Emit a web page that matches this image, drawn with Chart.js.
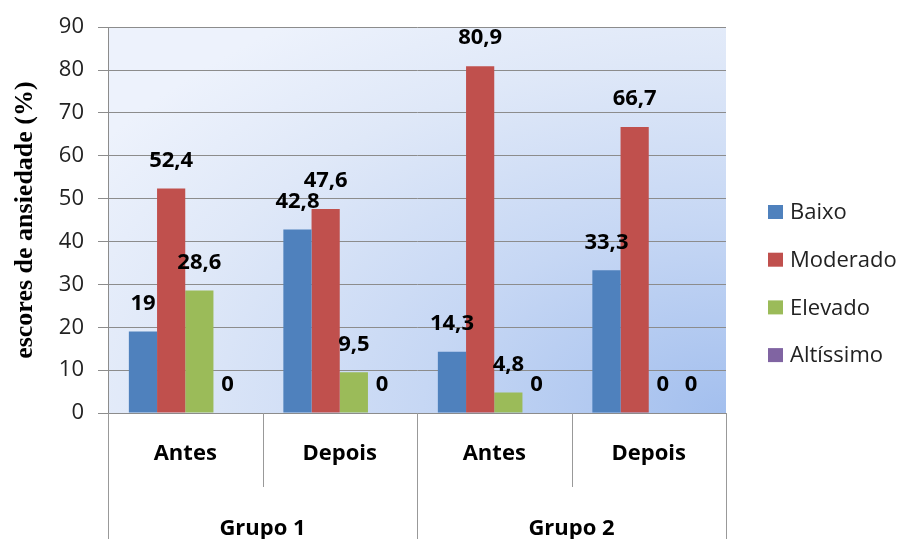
<!DOCTYPE html>
<html>
<head>
<meta charset="utf-8">
<script src="https://cdn.jsdelivr.net/npm/chart.js@4.4.0/dist/chart.umd.min.js"></script>
<style>
  html, body { margin: 0; padding: 0; background: #fff; }
  #wrap { width: 904px; height: 539px; position: relative; }
</style>
</head>
<body>
<div id="wrap"><canvas id="chart"></canvas></div>
<script>
// data
const categories = ['Antes', 'Depois', 'Antes', 'Depois'];
const groups = ['Grupo 1', 'Grupo 2'];
const seriesNames = ['Baixo', 'Moderado', 'Elevado', 'Altíssimo'];
const baixo = [19, 42.8, 14.3, 33.3];
const moderado = [52.4, 47.6, 80.9, 66.7];
const elevado = [28.6, 9.5, 4.8, 0];
const altissimo = [0, 0, 0, 0];
const yTicks = [0, 10, 20, 30, 40, 50, 60, 70, 80, 90];

const colors = ['#4f81bd', '#c0504d', '#9bbb59', '#8064a2'];
const FONT = '"Open Sans", "DejaVu Sans", sans-serif';

function fmt(v) {
  return String(v).replace('.', ',');
}

// light-to-blue fill behind the plot, darkest in the lower right corner
const plotBackground = {
  id: 'plotBackground',
  beforeDraw(chart) {
    const { ctx, chartArea: a } = chart;
    const w = a.right - a.left, h = a.bottom - a.top;
    ctx.save();
    ctx.fillStyle = '#fff';
    ctx.fillRect(0, 0, chart.width, chart.height);
    ctx.beginPath();
    ctx.rect(a.left, a.top, w, h);
    ctx.clip();
    ctx.translate(a.right, a.bottom);
    ctx.scale(1, 1 / 1.6);
    const g = ctx.createRadialGradient(0, 0, 0, 0, 0, 760);
    g.addColorStop(0, '#a3bfee');
    g.addColorStop(0.4, '#c6d7f4');
    g.addColorStop(0.75, '#dfe8f8');
    g.addColorStop(1, '#edf2fc');
    ctx.fillStyle = g;
    ctx.fillRect(-w, -h * 1.6, w, h * 1.6);
    ctx.restore();
  }
};

// value labels above each bar
const valueLabels = {
  id: 'valueLabels',
  afterDatasetsDraw(chart) {
    const ctx = chart.ctx;
    ctx.save();
    ctx.font = 'bold 22px ' + FONT;
    ctx.fillStyle = '#000';
    ctx.textAlign = 'center';
    ctx.textBaseline = 'middle';
    chart.data.datasets.forEach((ds, di) => {
      chart.getDatasetMeta(di).data.forEach((bar, i) => {
        ctx.fillText(fmt(ds.data[i]), bar.x, bar.y - 28);
      });
    });
    ctx.restore();
  }
};

// category separators and the group row under the x axis
const groupAxis = {
  id: 'groupAxis',
  afterDraw(chart) {
    const { ctx, chartArea: a } = chart;
    const x = chart.scales.x;
    const n = categories.length;
    ctx.save();
    ctx.strokeStyle = '#999';
    ctx.lineWidth = 1;
    for (let i = 0; i <= n; i++) {
      let px;
      if (i === 0) px = a.left;
      else if (i === n) px = a.right;
      else px = (x.getPixelForValue(i - 1) + x.getPixelForValue(i)) / 2;
      px = Math.round(px) + 0.5;
      ctx.beginPath();
      ctx.moveTo(px, a.bottom);
      ctx.lineTo(px, i % 2 === 0 ? chart.height : a.bottom + 74);
      ctx.stroke();
    }
    ctx.font = 'bold 22px ' + FONT;
    ctx.fillStyle = '#000';
    ctx.textAlign = 'center';
    ctx.textBaseline = 'middle';
    groups.forEach((g, gi) => {
      const cx = (x.getPixelForValue(gi * 2) + x.getPixelForValue(gi * 2 + 1)) / 2;
      ctx.fillText(g, cx, a.bottom + 116);
    });
    ctx.restore();
  }
};

// legend on the right
const sideLegend = {
  id: 'sideLegend',
  afterDraw(chart) {
    const ctx = chart.ctx;
    const lx = 768, ly = 212, step = 47.7;
    ctx.save();
    ctx.font = '22px ' + FONT;
    ctx.textAlign = 'left';
    ctx.textBaseline = 'middle';
    chart.data.datasets.forEach((ds, i) => {
      const cy = ly + i * step;
      ctx.fillStyle = ds.backgroundColor;
      ctx.fillRect(lx, cy - 7, 15, 14);
      ctx.fillStyle = '#222';
      ctx.fillText(ds.label, lx + 22, cy + 1);
    });
    ctx.restore();
  }
};

const seriesData = [baixo, moderado, elevado, altissimo];

new Chart(document.getElementById('chart'), {
  type: 'bar',
  data: {
    labels: categories,
    datasets: seriesNames.map((name, i) => ({
      label: name,
      data: seriesData[i],
      backgroundColor: colors[i],
      borderWidth: 0,
      categoryPercentage: 0.73,
      barPercentage: 1
    }))
  },
  options: {
    responsive: true,
    maintainAspectRatio: false,
    animation: false,
    layout: { padding: { top: 26, right: 178, left: 0, bottom: 0 } },
    plugins: {
      legend: { display: false },
      tooltip: { enabled: false }
    },
    scales: {
      x: {
        grid: { display: false, drawTicks: false },
        border: { display: false },
        ticks: {
          color: '#000',
          padding: 28,
          font: { family: FONT, size: 22, weight: 'bold' }
        },
        afterFit(s) { s.height = 126; }
      },
      y: {
        min: 0,
        max: 90,
        afterBuildTicks(s) { s.ticks = yTicks.map(v => ({ value: v })); },
        grid: { color: '#8c8c8c', tickLength: 10 },
        border: { color: '#8c8c8c' },
        ticks: {
          color: '#222',
          padding: 14,
          font: { family: FONT, size: 22 }
        },
        title: {
          display: true,
          text: 'escores de ansiedade (%)',
          color: '#000',
          padding: { top: 10, bottom: 0 },
          font: { family: '"Liberation Serif", "DejaVu Serif", serif', size: 26, weight: 'bold' }
        },
        afterFit(s) { s.width = 108; }
      }
    }
  },
  plugins: [plotBackground, valueLabels, groupAxis, sideLegend]
});
</script>
</body>
</html>
